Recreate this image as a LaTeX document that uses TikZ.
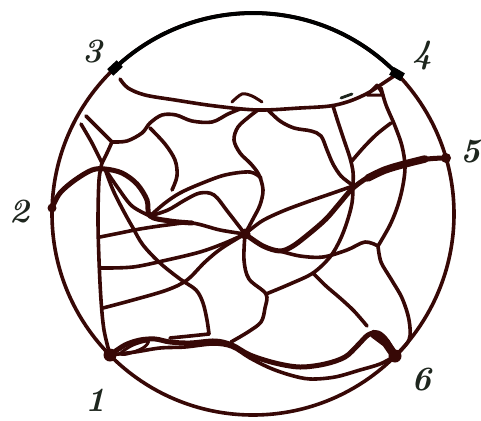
\documentclass[tikz,border=0pt]{standalone}
\definecolor{mar}{RGB}{55,8,6}
\definecolor{lab}{RGB}{30,38,30}
\begin{document}
\begin{tikzpicture}[x=1pt,y=-1pt,line cap=round,line join=round,
  net/.style={draw=mar,line width=3.6pt},
  thk/.style={draw=mar,line width=5pt},
  fine/.style={draw=mar,line width=3pt},
  lbl/.style={text=lab,font=\fontsize{34}{34}\selectfont\bfseries\itshape,inner sep=0pt},
  sm/.style={smooth,tension=0.55}]
\useasboundingbox (0,0) rectangle (481,420);
% named points
\coordinate (o) at (253,214);
\coordinate (n1) at (110,355);
\coordinate (n2) at (52,208);
\coordinate (n3) at (115,68);
\coordinate (n4) at (397,74);
\coordinate (n5) at (446,158);
\coordinate (n6) at (395,356);
\coordinate (c) at (245,234);
\coordinate (j1) at (150,216);
\coordinate (pk) at (105,169);
\coordinate (pb) at (102,163);
\coordinate (q) at (112,142);
\coordinate (ja) at (378,246);
\coordinate (jc) at (353,186);
\coordinate (jt) at (258,110);
\coordinate (jg) at (266,294);
\coordinate (kb) at (209,334);
% outer circle
\draw[net] (o) circle[radius=201pt];
\draw[draw=black,line width=4pt] (n3) arc[start angle=133.4,end angle=44.2,radius=201pt];
% top
\draw[net] plot[sm] coordinates {(120,79) (128,88) (145,95) (175,100) (215,106) (jt) (300,108) (330,106) (350,101) (368,93) (382,84) (n4)};
\draw[fine] plot[sm] coordinates {(232,102) (242,94) (252,96) (262,102)};
\draw[draw=lab,line width=2.8pt] (341,98) -- (352,94);
\draw[fine] (367,95) -- (377,85) -- (383,95) -- cycle;
% right side
\draw[net] plot[sm] coordinates {(381,88) (386,105) (395,126) (402,146) (405,166) (403,185) (398,205) (390,225) (ja)};
\draw[net] plot[sm] coordinates {(ja) (381,262) (391,279) (402,298) (409,320) (409,340) (n6)};
\draw[thk] plot[sm] coordinates {(n5) (428,159) (405,164) (385,170) (367,178) (352,189) (339,204) (326,219) (310,233) (293,246) (280,251) (263,246) (c)};
\draw[draw=mar,line width=7.5pt] plot[sm] coordinates {(425,159) (405,164) (385,170) (368,178)};
\draw[net] plot[sm] coordinates {(c) (262,221) (283,211) (307,202) (333,193) (jc)};
\draw[net] plot[sm] coordinates {(333,106) (338,122) (344,140) (350,158) (353,172) (jc) (352,203) (347,222) (340,240) (330,257) (313,273) (290,284) (jg)};
\draw[net] plot[sm] coordinates {(391,123) (377,134) (364,147) (351,162)};
\draw[net] plot[sm] coordinates {(268,110) (280,121) (294,128) (311,131) (321,136) (327,150) (333,164) (341,176) (351,184)};
\draw[net] plot[sm] coordinates {(280,251) (300,256) (323,257) (347,250) (365,242) (ja)};
\draw[net] plot[sm] coordinates {(313,273) (326,286) (340,298) (354,311) (367,326)};
\draw[net] plot[sm] coordinates {(c) (244,260) (249,279) (jg) (265,308) (261,322) (248,332) (231,342)};
\draw[net] plot[sm] coordinates {(jt) (250,116) (238,127) (234,140) (240,153) (251,164) (259,175) (263,190) (260,205) (253,219) (c)};
% left side
\draw[thk] plot[sm] coordinates {(n2) (60,193) (75,180) (92,170) (pk) (122,173) (137,184) (147,200) (j1) (170,221) (192,223)};
\draw[net] plot[sm] coordinates {(j1) (165,203) (180,193) (200,184) (225,175) (250,172) (261,178)};
\draw[net] plot[sm] coordinates {(j1) (168,210) (185,200) (200,193) (214,195) (228,212) (c)};
\draw[net] plot[sm] coordinates {(150,128) (165,144) (175,160) (177,176) (172,190)};
\draw[net] plot[sm] coordinates {(pk) (118,188) (132,206) (j1)};
\draw[net] plot[sm] coordinates {(pk) (113,190) (123,210) (133,228) (143,245) (160,263) (180,279) (196,290) (203,303) (207,320) (kb)};
\draw[net] plot[sm] coordinates {(170,338) (190,336) (kb)};
\draw[net] plot[sm] coordinates {(pb) (99,180) (98,220) (99,260) (101,300) (104,330) (n1)};
\draw[net] plot[sm] coordinates {(100,237) (120,233) (140,229) (167,225) (192,223) (220,230) (c)};
\draw[net] plot[sm] coordinates {(100,268) (133,267) (167,260) (200,252) (225,243) (c)};
\draw[net] plot[sm] coordinates {(103,308) (133,300) (167,290) (187,280) (205,262) (222,248) (c)};
\draw[net] plot[sm] coordinates {(81,124) (92,143) (pb)};
\draw[net] plot[sm] coordinates {(86,116) (99,129) (q)};
\draw[net] plot[sm] coordinates {(q) (107,153) (pb)};
\draw[net] plot[sm] coordinates {(q) (127,141) (142,133) (150,123) (162,115) (176,115) (192,121) (212,122) (228,114) (240,109)};
% bottom
\draw[thk] plot[sm] coordinates {(n1) (125,345) (140,340) (155,339) (170,342) (190,343) (215,341) (232,345) (250,355) (275,363) (300,367) (325,364) (345,357) (358,345) (368,335) (378,333) (387,341) (n6)};
\draw[draw=mar,line width=8.5pt] (374,334) -- (386,343) -- (n6);
\draw[net] plot[sm] coordinates {(n1) (135,352) (160,348) (185,347) (213,344) (232,347) (250,358) (270,368) (290,375) (310,379) (335,377) (360,370) (380,364) (n6)};
\draw[fine] plot[smooth cycle,tension=0.6] coordinates {(121,353) (133,345) (148,341) (143,348) (127,354)};
% junction blobs
\fill[mar] (n1) circle[radius=6.5pt];
\fill[mar] (n6) circle[radius=6.5pt];
\fill[mar] (c) circle[radius=5.5pt];
\fill[mar] (n2) circle[radius=4.5pt];
\fill[mar] (n5) circle[radius=5pt];
\node[fill=black,minimum width=13pt,minimum height=9pt,inner sep=0pt,rotate=43] (b3) at (n3) {};
\node[fill=black,minimum width=13pt,minimum height=9pt,inner sep=0pt,rotate=-30] (b4) at (n4) {};
% labels
\node[lbl] (l3) at (93,52) {3};
\node[lbl] (l4) at (423,56) {4};
\node[lbl] (l5) at (471,152) {5};
\node[lbl] (l2) at (20,212) {2};
\node[lbl] (l1) at (96,400) {1};
\node[lbl] (l6) at (422,380) {6};
\end{tikzpicture}
\end{document}
